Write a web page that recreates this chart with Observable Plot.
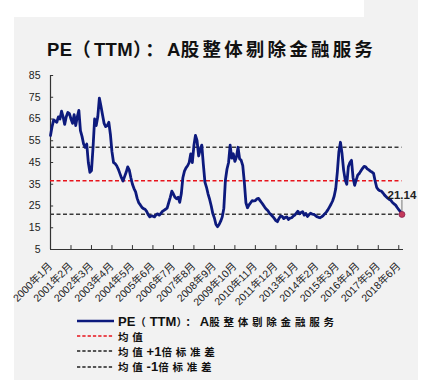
<!DOCTYPE html>
<html>
<head>
<meta charset="utf-8">
<script src="https://cdn.jsdelivr.net/npm/d3@7"></script>
<script src="https://cdn.jsdelivr.net/npm/@observablehq/plot@0.6"></script>
<style>
html,body{margin:0;padding:0;background:#fff;width:425px;height:380px;overflow:hidden;position:relative;}
#bg{position:absolute;left:14px;top:0;width:404px;height:380px;background:#f2f2f2;}
#notch{position:absolute;left:14px;top:0;width:350px;height:17px;background:#fff;}
#title{position:absolute;left:47px;top:36px;white-space:nowrap;font-weight:bold;color:#111;line-height:24px;}
#chart{position:absolute;left:0;top:65px;}
#legend{position:absolute;left:77px;top:313.5px;}
.row{display:flex;align-items:center;height:15.2px;white-space:nowrap;overflow:visible;}
.row svg{width:37px;height:6px;margin-right:4px;flex:none;}
.lt{font-weight:bold;color:#111;line-height:14px;}
</style>
</head>
<body>
<div id="bg"></div>
<div id="notch"></div>
<div id="title"></div>
<div id="chart"></div>
<div id="legend"></div>
<script>
// ---- data ----
const titleText = "PE（TTM）：A股整体剔除金融服务";
const startYear = 2000;
const startMonth = 1;
// monthly PE (TTM), 2000-01 .. 2018-08
const peMonthly = [
  57.4, 61.5, 64.6, 64, 63.5, 66, 65, 68.6, 66, 62.5, 66, 68,          // 2000
  67.5, 65, 63, 67, 62, 66, 69, 59.7, 57, 53.5, 52, 53.5,              // 2001
  45, 40.5, 41.3, 52, 65, 62, 66, 74.6, 71, 67, 63, 61.5,              // 2002
  62, 63.5, 58, 50, 45, 44.5, 43.5, 42, 40, 38, 36.5, 38.5,            // 2003
  40.5, 43, 41.5, 38, 35, 33, 31.5, 28.5, 26.5, 25.5, 24.4, 23.8,      // 2004
  23.5, 22.5, 21, 20, 20.5, 20.3, 20, 21, 21.4, 20.8, 21.5, 22.5,      // 2005
  23, 23.5, 24, 26.5, 29, 31.8, 30.5, 29, 28.3, 29, 26.7, 30.6,        // 2006
  38, 41, 42.5, 43.5, 45, 49, 45, 52.8, 57.5, 55, 48, 51,              // 2007
  53, 44, 36, 33.6, 30.5, 28, 25, 21.5, 19.5, 16.5, 15.5, 16.5,        // 2008
  18, 20, 24, 37, 42, 45, 53, 47, 49, 45.5, 47.5, 52,                  // 2009
  46.7, 46, 43.6, 36, 26.5, 24.2, 25.5, 26.5, 27.5, 27.3, 27.5, 28.3,  // 2010
  28.5, 27.5, 26.5, 25.5, 24.4, 23.5, 22.8, 21.6, 21, 20.2, 19.3, 18.3,// 2011
  17.8, 19.3, 20.4, 20.2, 19.2, 19.8, 20, 18.8, 19.4, 19.6, 20.3, 20.8,// 2012
  21.7, 22.6, 21.4, 22, 22.4, 20.8, 21.6, 20.2, 21, 21.7, 21.3, 21.2,  // 2013
  20.7, 20.1, 19.8, 19.6, 20, 20.6, 21.4, 22.2, 23.2, 24.5, 25.8, 27.3,// 2014
  29.5, 33, 40.5, 50, 54.3, 49, 41.5, 37, 35, 43, 45, 46,              // 2015
  38, 34.5, 37, 39.3, 40, 41.2, 42.3, 43.2, 43, 42.1, 41.6, 41,        // 2016
  40.6, 40, 36.5, 33.5, 32.5, 32, 31.8, 31, 30, 29.3, 28.6, 28,        // 2017
  27.6, 26.6, 26, 25.4, 24.3, 23.3, 22.4, 21.14                        // 2018
];
const meanValue = 36.6;
const plus1Sd = 52.0;
const minus1Sd = 21.2;
const yTicks = [5, 15, 25, 35, 45, 55, 65, 75, 85];
const xTickLabels = ["2000年1月","2001年2月","2002年3月","2003年4月","2004年5月","2005年6月",
  "2006年7月","2007年8月","2008年9月","2009年10月","2010年11月","2011年12月",
  "2013年1月","2014年2月","2015年3月","2016年4月","2017年5月","2018年6月"];
const legendLabels = ["PE（TTM）：A股整体剔除金融服务", "均值", "均值+1倍标准差", "均值-1倍标准差"];

// ---- colors ----
const navy = "#0d1a7d", red = "#e8141c", dark = "#3a3a3a";

// ---- helpers ----
function richText(el, str, latinCss, cjkCss) {
  const runs = str.match(/[\u3000-\u9fff\uff00-\uffef]+|[^\u3000-\u9fff\uff00-\uffef]+/g);
  for (const r of runs) {
    const s = document.createElement("span");
    s.textContent = r;
    s.style.cssText = /[\u3000-\u9fff\uff00-\uffef]/.test(r) ? cjkCss : latinCss;
    el.appendChild(s);
  }
}

// title
richText(document.getElementById("title"), titleText,
  'font-family:"Liberation Sans",Arial,sans-serif;font-size:18.5px;letter-spacing:0.3px;',
  'font-family:"Noto Sans CJK SC",sans-serif;font-size:18.5px;letter-spacing:3.2px;');

// chart
const data = peMonthly.map((v, i) => ({i, v}));
const monthIndex = s => { const m = s.match(/(\d+)年(\d+)月/); return (+m[1] - startYear) * 12 + (+m[2] - startMonth); };
const tickPos = xTickLabels.map(monthIndex);
const labelByPos = new Map(tickPos.map((p, k) => [p, xTickLabels[k]]));
const lastIdx = data.length - 1;
const last = data[lastIdx];

const chart = Plot.plot({
  width: 425,
  height: 248,
  marginLeft: 50,
  marginRight: 22,
  marginTop: 10,
  marginBottom: 64,
  style: {background: "transparent", fontFamily: '"Liberation Sans", Arial, "Noto Sans CJK SC", sans-serif', color: "#222"},
  x: {type: "linear", domain: [0, 224]},
  y: {domain: [5, 85]},
  marks: [
    Plot.axisY(yTicks, {tickSize: 0, tickPadding: 10, fontSize: 10.5, label: null}),
    Plot.axisX(tickPos, {tickSize: 0, tickRotate: -45, tickPadding: 15, fontSize: 10.5, label: null, tickFormat: d => labelByPos.get(d)}),
    Plot.ruleY(yTicks, {x1: 0, x2: 2, stroke: "#333"}),
    Plot.ruleX(tickPos, {y1: 5, y2: 6.8, stroke: "#333"}),
    Plot.ruleX([0], {y1: 5, y2: 85, stroke: "#333", strokeWidth: 1.2}),
    Plot.ruleY([5], {x1: 0, x2: 224, stroke: "#333", strokeWidth: 1.2}),
    Plot.ruleY([plus1Sd, minus1Sd], {x1: 0, x2: lastIdx, stroke: dark, strokeWidth: 1.6, strokeDasharray: "4,2.5"}),
    Plot.ruleY([meanValue], {x1: 0, x2: lastIdx, stroke: red, strokeWidth: 1.4, strokeDasharray: "4,2.5"}),
    Plot.line(data, {x: "i", y: "v", stroke: navy, strokeWidth: 2.8, strokeLinejoin: "round"}),
    Plot.ruleX([last], {x: "i", y1: d => d.v + 1, y2: d => d.v + 6.5, stroke: "#777", strokeWidth: 1}),
    Plot.dot([last], {x: "i", y: "v", r: 3, fill: "#c43a5a", stroke: "#8a2050", strokeWidth: 0.8}),
    Plot.text([last], {x: "i", y: "v", text: d => d.v.toFixed(2), dy: -19, fontWeight: "bold", fontSize: 11.5, fill: "#222"})
  ]
});
document.getElementById("chart").appendChild(chart);

// legend
const legendStyles = [
  {stroke: navy, width: 2.6, dash: null},
  {stroke: red, width: 1.3, dash: "3.3,2"},
  {stroke: "#222", width: 1.3, dash: "3.3,2"},
  {stroke: "#222", width: 1.3, dash: "3.3,2"}
];
const legend = document.getElementById("legend");
legendLabels.forEach((lab, k) => {
  const row = document.createElement("div");
  row.className = "row";
  const st = legendStyles[k];
  row.innerHTML = `<svg viewBox="0 0 37 6"><line x1="0" y1="3" x2="37" y2="3" stroke="${st.stroke}" stroke-width="${st.width}" ${st.dash ? `stroke-dasharray="${st.dash}"` : ""}/></svg>`;
  const t = document.createElement("span");
  t.className = "lt";
  richText(t, lab,
    'font-family:"Liberation Sans",Arial,sans-serif;font-size:13px;',
    'font-family:"Noto Sans CJK SC",sans-serif;font-size:10.5px;letter-spacing:3.8px;');
  row.appendChild(t);
  legend.appendChild(row);
});
</script>
</body>
</html>
